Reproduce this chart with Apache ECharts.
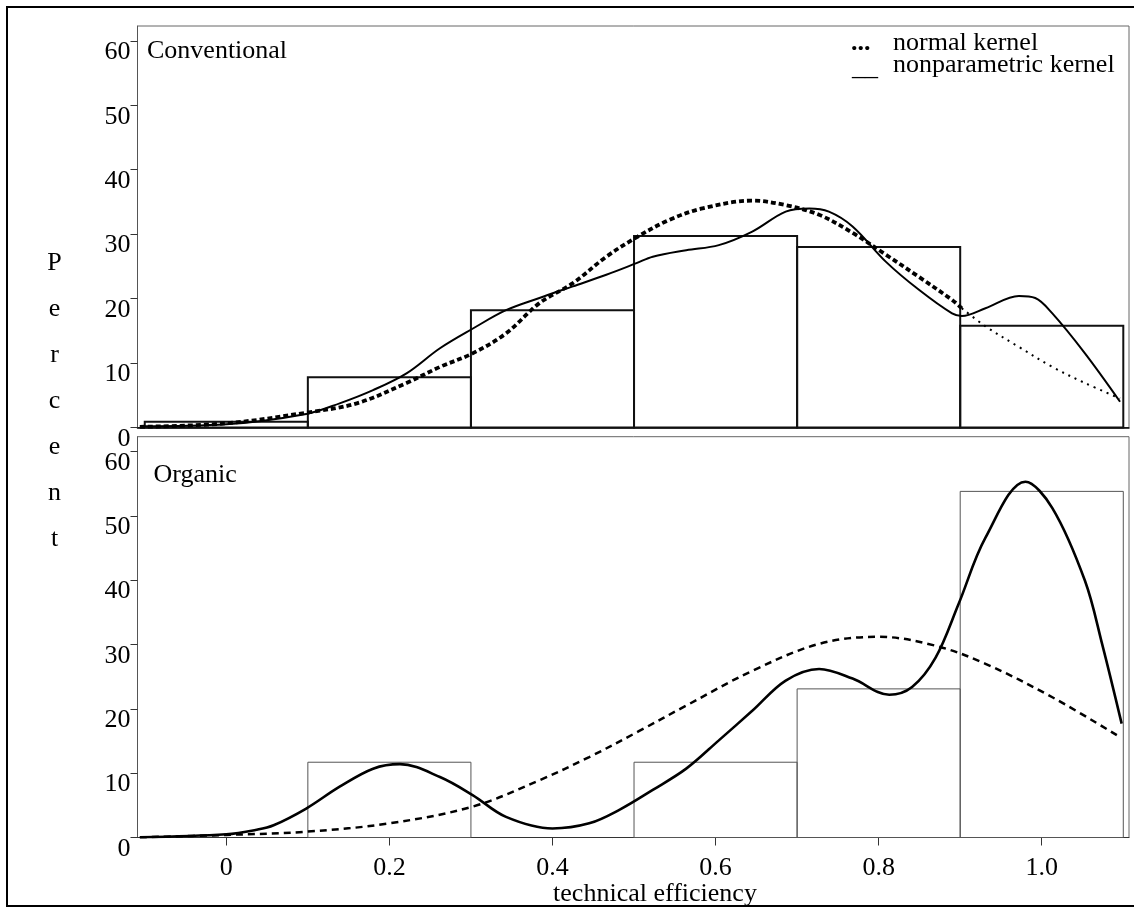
<!DOCTYPE html>
<html><head><meta charset="utf-8">
<script src="https://cdn.jsdelivr.net/npm/echarts@6/dist/echarts.min.js"></script>
<style>html,body{margin:0;padding:0;background:#fff}#c{width:1134px;height:909px}</style>
</head><body><div id="c"></div>
<script>
// ---- data ----
const binCenters = [0, 0.2, 0.4, 0.6, 0.8, 1.0];
const binWidth = 0.2;
const convPercent = [0.9, 7.8, 18.2, 29.7, 28.0, 15.8];
const orgPercent = [0, 11.7, 0, 11.7, 23.1, 53.8];
const xTicks = [0, 0.2, 0.4, 0.6, 0.8, 1.0];
const yTicks = [0, 10, 20, 30, 40, 50, 60];

// Conventional: normal kernel (thick dotted part, then thin dotted part)
const convNormalAX = [-0.106, 0.0, 0.098, 0.16, 0.221, 0.262, 0.302, 0.343, 0.384, 0.425, 0.466, 0.503, 0.543, 0.584, 0.645, 0.686, 0.727, 0.768, 0.809, 0.849, 0.890, 0.902];
const convNormalAY = [0.1, 0.65, 2.3, 3.75, 6.9, 9.4, 11.5, 14.6, 19.3, 22.4, 26.5, 29.5, 32.2, 34.0, 35.2, 34.5, 33.0, 30.2, 26.8, 23.4, 19.8, 18.5];
const convNormalBX = [0.902, 0.931, 0.972, 1.013, 1.053, 1.096];
const convNormalBY = [18.5, 15.7, 12.5, 9.4, 6.9, 4.5];
// Conventional: nonparametric kernel
const convNpX = [-0.106, 0.0, 0.098, 0.139, 0.18, 0.221, 0.262, 0.303, 0.343, 0.384, 0.425, 0.466, 0.503, 0.523, 0.564, 0.604, 0.645, 0.686, 0.715, 0.739, 0.768, 0.809, 0.849, 0.890, 0.902, 0.931, 0.972, 0.992, 1.013, 1.053, 1.096];
const convNpY = [0.2, 0.5, 2.1, 3.75, 5.8, 8.4, 12.3, 15.4, 18.2, 20.1, 21.9, 23.7, 25.5, 26.5, 27.5, 28.3, 30.4, 33.5, 34.0, 33.5, 31.2, 25.7, 21.4, 17.7, 17.3, 18.5, 20.4, 20.1, 17.7, 11.5, 4.0];
// Organic: normal kernel
const orgNormalX = [-0.106, 0.0, 0.098, 0.2, 0.302, 0.384, 0.445, 0.507, 0.564, 0.645, 0.727, 0.8, 0.87, 0.931, 1.013, 1.096];
const orgNormalY = [0.03, 0.4, 0.9, 2.2, 4.8, 8.9, 12.5, 16.6, 20.5, 25.9, 30.1, 31.2, 29.8, 27.0, 21.8, 15.6];
// Organic: nonparametric kernel
const orgNpX = [-0.106, 0.0, 0.037, 0.058, 0.098, 0.139, 0.18, 0.213, 0.262, 0.302, 0.343, 0.4, 0.445, 0.482, 0.523, 0.564, 0.604, 0.645, 0.686, 0.727, 0.768, 0.813, 0.841, 0.870, 0.898, 0.931, 0.980, 1.013, 1.053, 1.074, 1.098];
const orgNpY = [0.03, 0.5, 1.2, 1.9, 4.5, 7.9, 10.7, 11.4, 9.4, 6.6, 3.2, 1.4, 2.2, 4.3, 7.4, 10.7, 15.1, 19.7, 24.4, 26.2, 24.7, 22.2, 23.4, 28.0, 36.3, 46.6, 55.3, 51.2, 39.9, 30.1, 17.7];

const panelTitles = ['Conventional', 'Organic'];
const legendLabels = ['normal kernel', 'nonparametric kernel'];
const xTitle = 'technical efficiency';
const yTitle = 'Percent';

// ---- chart ----
const FONT = "'Liberation Serif','Times New Roman',serif";
const X_MIN = -0.1089, X_MAX = 1.107, Y_MAX = 62.3;
const zip = (xs, ys) => xs.map((x, i) => [x, ys[i]]);

function barSeries(idx, vals, color, lw) {
  return {
    type: 'custom', xAxisIndex: idx, yAxisIndex: idx, z: 2, silent: true,
    data: binCenters.map((c, i) => [c, vals[i]]),
    renderItem(params, api) {
      const c = api.value(0), v = api.value(1);
      if (!v) return null;
      const p0 = api.coord([c - binWidth / 2, v]);
      const p1 = api.coord([c + binWidth / 2, 0]);
      return { type: 'rect', shape: { x: p0[0], y: p0[1], width: p1[0] - p0[0], height: p1[1] - p0[1] },
        style: { fill: 'none', stroke: color, lineWidth: lw } };
    }
  };
}
function lineSeries(idx, data, lw, type, color) {
  return { type: 'line', xAxisIndex: idx, yAxisIndex: idx, data, smooth: 0.35, showSymbol: false, z: 3, silent: true,
    lineStyle: { width: lw, type, color: color || '#000', cap: 'butt' } };
}
function yAxis(idx) {
  return { gridIndex: idx, type: 'value', min: 0, max: Y_MAX,
    splitLine: { show: false },
    axisLine: { show: true, onZero: false, lineStyle: { color: '#555', width: 1 } },
    axisTick: { show: true, length: 7, customValues: yTicks, lineStyle: { color: '#333', width: 1 } },
    axisLabel: { customValues: yTicks, margin: 7, fontSize: 26, fontFamily: FONT, color: '#000',
      verticalAlign: 'top', lineHeight: 23 } };
}

const chart = echarts.init(document.getElementById('c'), null, { renderer: 'canvas' });
chart.setOption({
  animation: false,
  backgroundColor: '#fff',
  grid: [
    { left: 137.5, top: 26, width: 991.5, height: 401.5, show: true, borderColor: '#666', borderWidth: 1 },
    { left: 137.5, top: 436.7, width: 991.5, height: 400.8, show: true, borderColor: '#666', borderWidth: 1 }
  ],
  xAxis: [
    { gridIndex: 0, type: 'value', min: X_MIN, max: X_MAX, splitLine: { show: false },
      axisLine: { show: true, onZero: false, lineStyle: { color: '#000', width: 1.5 } },
      axisTick: { show: false }, axisLabel: { show: false } },
    { gridIndex: 1, type: 'value', min: X_MIN, max: X_MAX, splitLine: { show: false },
      axisLine: { show: true, onZero: false, lineStyle: { color: '#333', width: 1 } },
      axisTick: { show: true, length: 8, customValues: xTicks, lineStyle: { color: '#333', width: 1 } },
      axisLabel: { customValues: xTicks, margin: 18, fontSize: 26, fontFamily: FONT, color: '#000',
        formatter: v => (Math.abs(v) < 1e-9 ? '0' : v.toFixed(1)) } }
  ],
  yAxis: [yAxis(0), yAxis(1)],
  series: [
    barSeries(0, convPercent, '#111', 2),
    barSeries(1, orgPercent, '#555', 1),
    lineSeries(0, zip(convNormalAX, convNormalAY), 3.8, [5, 3]),
    lineSeries(0, zip(convNormalBX, convNormalBY), 2, [2, 5]),
    lineSeries(0, zip(convNpX, convNpY), 2),
    lineSeries(1, zip(orgNormalX, orgNormalY), 2.5, [7, 5]),
    lineSeries(1, zip(orgNpX, orgNpY), 2.6)
  ],
  graphic: [
    { type: 'rect', shape: { x: 7, y: 7, width: 1140, height: 899 }, style: { fill: 'none', stroke: '#000', lineWidth: 2 }, silent: true },
    { type: 'text', x: 147, y: 51.5, style: { text: panelTitles[0], font: '26px ' + FONT, fill: '#000', verticalAlign: 'middle' } },
    { type: 'text', x: 153.5, y: 475.5, style: { text: panelTitles[1], font: '26px ' + FONT, fill: '#000', verticalAlign: 'middle' } },
    { type: 'text', x: 851, y: 43, style: { text: '...', font: 'bold 26px ' + FONT, fill: '#000', verticalAlign: 'middle' } },
    { type: 'text', x: 893, y: 43, style: { text: legendLabels[0], font: '26px ' + FONT, fill: '#000', verticalAlign: 'middle' } },
    { type: 'text', x: 852, y: 68, style: { text: '__', font: '26px ' + FONT, fill: '#000', verticalAlign: 'middle' } },
    { type: 'text', x: 893, y: 65, style: { text: legendLabels[1], font: '26px ' + FONT, fill: '#000', verticalAlign: 'middle' } },
    { type: 'text', x: 54.5, y: 240, style: { text: yTitle.split('').join('\n'), font: '26px ' + FONT, lineHeight: 46, fill: '#000', align: 'center', verticalAlign: 'top' } },
    { type: 'text', x: 655, y: 894, style: { text: xTitle, font: '26px ' + FONT, fill: '#000', align: 'center', verticalAlign: 'middle' } }
  ]
});
</script>
</body></html>
